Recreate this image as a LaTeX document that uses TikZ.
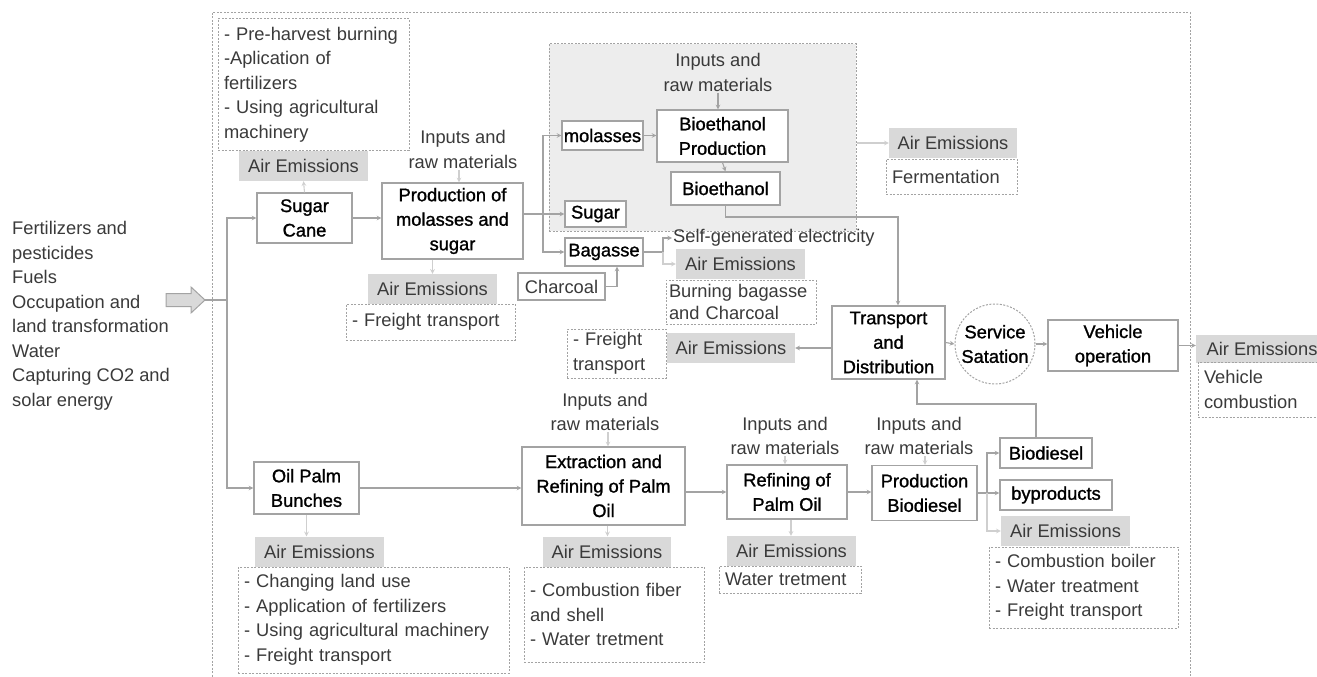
\documentclass[tikz,border=0pt]{standalone}
\usepackage{fontspec}
\setmainfont{Liberation Sans}
\newfontfamily\medfont[FakeBold=1.2]{Liberation Sans}
\usetikzlibrary{shapes.geometric, arrows}
\definecolor{linegray}{HTML}{A3A3A3}
\definecolor{lightline}{HTML}{CFCFCF}
\definecolor{emisgray}{HTML}{D9D9D9}
\definecolor{panelgray}{HTML}{EDEDED}
\definecolor{textgray}{HTML}{3A3A3A}
\newcommand{\sz}{\fontsize{18.3}{24.5}\selectfont}
\tikzstyle{stage} = [rectangle, draw=linegray, line width=1.1pt, fill=white, text=black, font=\medfont\sz, align=center, inner sep=1pt]
\tikzstyle{emission} = [rectangle, fill=emisgray, text=textgray, font=\sz, minimum width=129, minimum height=30, inner sep=0pt]
\tikzstyle{detail} = [rectangle, draw=linegray, line width=1pt, dash pattern=on 2pt off 1.5pt, text=textgray, font=\sz, align=left, inner xsep=6pt, inner ysep=1pt]
\tikzstyle{inputs} = [text=textgray, font=\sz, align=center, inner sep=1pt]
\tikzstyle{arrow} = [draw=linegray, line width=1.1pt, ->, >=stealth]
\tikzstyle{lightarrow} = [arrow, draw=lightline]
\tikzstyle{link} = [draw=linegray, line width=1.1pt]

\begin{document}
\begin{tikzpicture}[x=1pt, y=-1pt]
\useasboundingbox (0,0) rectangle (1317,677);
\clip (0,0) rectangle (1317,677);

% outer frame and bioethanol panel
\draw[linegray, line width=1pt, dash pattern=on 2pt off 1.5pt] (212,13) rectangle (1190,720);
\node (panel) [rectangle, draw=linegray, line width=1pt, dash pattern=on 2pt off 1.5pt, fill=panelgray, minimum width=307, minimum height=187] at (702.5,137.5) {};

% inputs on the left
\node (flows) [inputs, align=left, anchor=west] at (11,316) {Fertilizers and\\pesticides\\Fuels\\Occupation and\\land transformation\\Water\\Capturing CO2 and\\solar energy};
\draw[linegray, line width=1pt, fill=emisgray] (166,293.5) -- (191,293.5) -- (191,287) -- (205,300) -- (191,313) -- (191,306.5) -- (166,306.5) -- cycle;
\coordinate (feed) at (205,300);
\coordinate (split) at (227,300);

% sugar cane chain
\node (cane) [stage, minimum width=95, minimum height=50] at (304.5,218) {Sugar\\Cane};
\node (caneemis) [emission] at (303.5,166) {Air Emissions};
\node (canenote) [detail, text width=179, minimum height=131] at (313.5,84.5) {- Pre-harvest burning\\-Aplication of\\fertilizers\\- Using agricultural\\machinery};
\node (in1) [inputs] at (463,149.5) {Inputs and\\raw materials};
\node (prod) [stage, minimum width=141, minimum height=76] at (452.5,221) {Production of\\molasses and\\sugar};
\node (prodemis) [emission] at (432.5,289) {Air Emissions};
\node (prodnote) [detail, text width=157, minimum height=36] at (430.5,322) {- Freight transport};

% bioethanol panel contents
\node (in2) [inputs] at (718,72.5) {Inputs and\\raw materials};
\node (bioprod) [stage, minimum width=131, minimum height=52] at (722.5,136) {Bioethanol\\Production};
\node (molasses) [stage, minimum width=81, minimum height=29] at (602.5,135.5) {molasses};
\node (bioeth) [stage, minimum width=109, minimum height=33] at (725.5,188.5) {Bioethanol};
\node (sugar) [stage, minimum width=61, minimum height=26] at (595.5,214) {Sugar};
\node (bagasse) [stage, minimum width=78, minimum height=28] at (604,252) {Bagasse};
\node (charcoal) [stage, font=\sz, text=textgray, minimum width=87, minimum height=27] at (561.5,286.5) {Charcoal};
\coordinate (fork1) at (543,214);
\coordinate (fork2) at (663,252);
\node (elec) [inputs, anchor=west] at (672,238) {Self-generated electricity};
\node (bagemis) [emission] at (740.5,264) {Air Emissions};
\node (bagnote) [detail, font=\fontsize{18.3}{22}\selectfont, inner xsep=3pt, text width=144, minimum height=44] at (741,302) {Burning bagasse\\and Charcoal};
\node (fermemis) [emission, minimum width=128] at (953,143) {Air Emissions};
\node (fermnote) [detail, text width=119, minimum height=35] at (951.5,176.5) {Fermentation};

% distribution and use
\node (trans) [stage, minimum width=113, minimum height=73] at (888.5,342.5) {Transport\\and\\Distribution};
\node (service) [circle, draw=linegray, line width=1pt, dash pattern=on 2pt off 1.5pt, minimum size=80, text=black, font=\medfont\sz, align=center, inner sep=0pt] at (995,344) {Service\\Satation};
\node (vehicle) [stage, minimum width=130, minimum height=51] at (1113,345.5) {Vehicle\\operation};
\node (vehemis) [emission, minimum width=132, minimum height=28] at (1262,349) {Air Emissions};
\node (vehnote) [detail, text width=120, minimum height=55] at (1264,389.5) {Vehicle\\combustion};
\node (transemis) [emission, minimum width=128] at (731,348) {Air Emissions};
\node (transnote) [detail, text width=87, minimum height=49] at (616.5,353.5) {- Freight\\transport};

% oil palm chain
\node (palm) [stage, minimum width=105, minimum height=52] at (306.5,488) {Oil Palm\\Bunches};
\node (palmemis) [emission] at (319.5,551.5) {Air Emissions};
\node (palmnote) [detail, text width=259, minimum height=106] at (373.5,620) {- Changing land use\\- Application of fertilizers\\- Using agricultural machinery\\- Freight transport};
\node (in3) [inputs] at (605,412) {Inputs and\\raw materials};
\node (extr) [stage, minimum width=163, minimum height=78] at (603.5,486) {Extraction and\\Refining of Palm\\Oil};
\node (extremis) [emission, minimum width=128] at (607,551.5) {Air Emissions};
\node (extrnote) [detail, text width=168, minimum height=95] at (614,614.5) {- Combustion fiber\\and shell\\- Water tretment};
\node (in4) [inputs] at (785,436) {Inputs and\\raw materials};
\node (refin) [stage, minimum width=120, minimum height=54] at (787,492) {Refining of\\Palm Oil};
\node (refemis) [emission] at (791.5,551) {Air Emissions};
\node (refnote) [detail, text width=130, minimum height=27] at (790,579.5) {Water tretment};
\node (in5) [inputs] at (919,436) {Inputs and\\raw materials};
\node (pbio) [stage, minimum width=105, minimum height=55] at (924.5,493) {Production\\Biodiesel};
\node (biod) [stage, minimum width=92, minimum height=30] at (1046,453) {Biodiesel};
\node (byprod) [stage, minimum width=112, minimum height=30] at (1056,495) {byproducts};
\node (biodemis) [emission] at (1065.5,531) {Air Emissions};
\node (biodnote) [detail, text width=177, minimum height=81] at (1083.5,587.5) {- Combustion boiler\\- Water treatment\\- Freight transport};
\coordinate (fork3) at (987,493);
\coordinate (bend) at (898,217);
\coordinate (up) at (917,404);

% connectors
\draw[link] (feed) -- (split);
\draw[arrow] (split) |- (cane.west);
\draw[arrow] (split) |- (palm.west);
\draw[lightarrow] (cane.north) -- (caneemis.south);
\draw[arrow] (cane.east) -- (cane.east -| prod.west);
\draw[lightarrow] ([xshift=-4pt]in1.south) -- ([xshift=-4pt]in1.south |- prod.north);
\draw[lightarrow] (prodemis.north |- prod.south) -- (prodemis.north);
\draw[arrow] (prod.east |- sugar.west) -- (sugar.west);
\draw[arrow] (fork1) |- (molasses.west);
\draw[arrow] (fork1) |- (bagasse.west);
\draw[arrow] (in2.south) -- (in2.south |- bioprod.north);
\draw[arrow] (molasses.east) -- (molasses.east -| bioprod.west);
\draw[arrow] (bioprod.south) -- (bioeth.north);
\draw[arrow] (charcoal.east) -| ([xshift=13pt]bagasse.south);
\draw[link] (bagasse.east) -- (fork2);
\draw[arrow] (fork2) |- (elec.west);
\draw[lightarrow] (fork2) |- (bagemis.west);
\draw[lightarrow] (panel.east |- fermemis.west) -- (fermemis.west);
\draw[arrow] (bioeth.south) |- (bend) -- (bend |- trans.north);
\draw[arrow] (trans.west |- transemis.east) -- (transemis.east);
\draw[arrow] (trans.east) -- (service.west);
\draw[arrow] (service.east) -- (service.east -| vehicle.west);
\draw[arrow] (vehicle.east) -- (vehicle.east -| vehemis.west);
\draw[arrow] (palm.east) -- (palm.east -| extr.west);
\draw[lightarrow] (palm.south) -- (palm.south |- palmemis.north);
\draw[lightarrow] ([xshift=3pt]in3.south) -- ([xshift=3pt]in3.south |- extr.north);
\draw[lightarrow] ([xshift=4pt]extr.south) -- ([xshift=4pt]extr.south |- extremis.north);
\draw[arrow] (extr.east |- refin.west) -- (refin.west);
\draw[lightarrow] (in4.south) -- (in4.south |- refin.north);
\draw[lightarrow] ([xshift=4pt]refin.south) -- ([xshift=4pt]refin.south |- refemis.north);
\draw[arrow] (refin.east) -- (refin.east -| pbio.west);
\draw[lightarrow] ([xshift=6pt]in5.south) -- ([xshift=6pt]in5.south |- pbio.north);
\draw[arrow] (pbio.east) -- (pbio.east -| byprod.west);
\draw[arrow] (fork3) |- (biod.west);
\draw[lightarrow] (fork3) |- (biodemis.west);
\draw[arrow] ([xshift=-10pt]biod.north) |- (up) -- (up |- trans.south);
\end{tikzpicture}
\end{document}
